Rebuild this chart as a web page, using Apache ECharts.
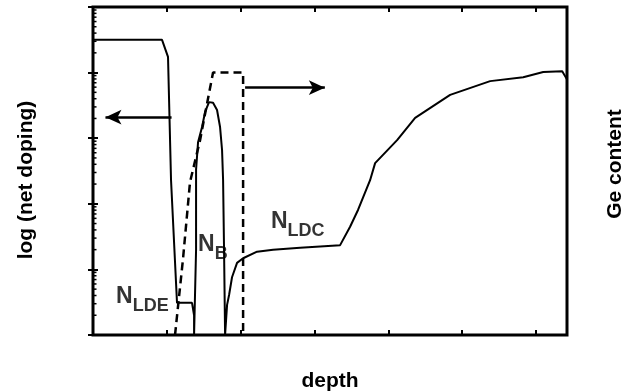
<!DOCTYPE html>
<html>
<head>
<meta charset="utf-8">
<script src="https://cdn.jsdelivr.net/npm/echarts@6/dist/echarts.min.js"></script>
<style>
html, body { margin: 0; padding: 0; background: #fff; }
#chart { width: 624px; height: 392px; }
</style>
</head>
<body>
<div id="chart"></div>
<script>
// net doping profile: depth (arb. units) and log10 of net doping
var dopDepth = [0, 93.5, 101.6, 105.7, 113.8, 134.1, 136.9, 136.9, 139.6, 139.6, 139.6, 142.3,
	147.7, 151.8, 157.2, 162.6, 168.0, 172.1, 174.8, 176.2, 177.5, 178.9, 181.6, 181.6, 184.3,
	188.3, 195.1, 203.3, 222.2, 243.9, 280.5, 334.7, 348.2, 359.1, 375.3, 382.1, 411.9, 436.3,
	483.7, 537.9, 582.7, 609.8, 635.5, 642.3];
var dopLog = [4.50, 4.50, 4.24, 2.36, 0.49, 0.49, 0.30, 0, 0, 1.30, 2.52, 2.94,
	3.17, 3.40, 3.55, 3.54, 3.43, 3.17, 2.82, 2.36, 1.30, 0, 0, 0.46, 0.61,
	0.88, 1.10, 1.17, 1.27, 1.30, 1.33, 1.37, 1.65, 1.91, 2.36, 2.62, 2.97, 3.31,
	3.66, 3.87, 3.93, 4.01, 4.02, 3.89];

// Ge content profile (dashed)
var geDepth = [111.1, 122.0, 131.4, 145.0, 154.5, 162.6, 203.3, 203.3];
var geContent = [0, 1.17, 2.33, 2.97, 3.53, 4.0, 4.0, 0];

// region labels
var labelNames = ['LDE', 'B', 'LDC'];
var labelDepth = [31.2, 142.3, 241.0];
var labelLog = [0.53, 1.33, 1.68];

// axis arrows
var leftArrow = { from: 106.4, to: 16.9, log: 3.32 };
var rightArrow = { from: 206.0, to: 314.0, ge: 3.77 };

// minor ticks of the log axis: 2..9 in every decade
var decades = [1, 10, 100, 1000, 10000];
var minorSteps = [2, 3, 4, 5, 6, 7, 8, 9];

var font = "'Liberation Sans', Arial, sans-serif";

var myChart = echarts.init(document.getElementById('chart'));

var dopData = dopDepth.map(function (d, i) { return [d, Math.pow(10, dopLog[i])]; });
var geData = geDepth.map(function (d, i) { return [d, geContent[i]]; });
var labelData = labelDepth.map(function (d, i) { return [d, Math.pow(10, labelLog[i]), labelNames[i]]; });
var minorData = [];
decades.forEach(function (dec) {
	minorSteps.forEach(function (m) { minorData.push([0, dec * m]); });
});

var tickStyle = { show: true, inside: true, length: 5, lineStyle: { color: '#000', width: 2 } };
var nameStyle = { fontFamily: font, fontWeight: 'bold', fontSize: 21, color: '#000' };

var option = {
	animation: false,
	backgroundColor: '#fff',
	grid: {
		left: 93,
		right: 57,
		top: 7,
		bottom: 57,
		containLabel: false,
		outerBoundsMode: 'none',
		show: true,
		borderColor: '#000',
		borderWidth: 3
	},
	xAxis: [
		{
			type: 'value',
			name: 'depth',
			nameLocation: 'middle',
			nameGap: 36,
			nameTextStyle: nameStyle,
			min: 0,
			max: 642,
			interval: 100,
			axisLine: { show: false },
			axisTick: tickStyle,
			axisLabel: { show: false },
			splitLine: { show: false }
		},
		{
			type: 'value',
			position: 'top',
			min: 0,
			max: 642,
			interval: 100,
			axisLine: { show: false },
			axisTick: tickStyle,
			axisLabel: { show: false },
			splitLine: { show: false }
		}
	],
	yAxis: [
		{
			type: 'log',
			logBase: 10,
			min: 1,
			max: 100000,
			name: 'log (net doping)',
			nameLocation: 'middle',
			nameGap: 56,
			nameTextStyle: Object.assign({ padding: [0, 18, 0, 0] }, nameStyle),
			axisLine: { show: false },
			axisTick: tickStyle,
			axisLabel: { show: false },
			splitLine: { show: false }
		},
		{
			type: 'value',
			min: 0,
			max: 5,
			interval: 1,
			position: 'right',
			name: 'Ge content',
			nameLocation: 'middle',
			nameGap: 38,
			nameTextStyle: Object.assign({ padding: [0, 0, 0, 14] }, nameStyle),
			axisLine: { show: false },
			axisTick: tickStyle,
			axisLabel: { show: false },
			splitLine: { show: false }
		}
	],
	series: [
		{
			name: 'net doping',
			type: 'line',
			yAxisIndex: 0,
			data: dopData,
			symbol: 'none',
			lineStyle: { color: '#000', width: 2 },
			markLine: {
				silent: true,
				symbol: ['none', 'arrow'],
				symbolSize: [11, 16],
				label: { show: false },
				lineStyle: { color: '#000', width: 2.5, type: 'solid' },
				data: [[
					{ coord: [leftArrow.from, Math.pow(10, leftArrow.log)] },
					{ coord: [leftArrow.to, Math.pow(10, leftArrow.log)] }
				]]
			}
		},
		{
			name: 'Ge content',
			type: 'line',
			yAxisIndex: 1,
			data: geData,
			symbol: 'none',
			lineStyle: { color: '#000', width: 2.5, type: [8, 5] },
			markLine: {
				silent: true,
				symbol: ['none', 'arrow'],
				symbolSize: [11, 16],
				label: { show: false },
				lineStyle: { color: '#000', width: 2.5, type: 'solid' },
				data: [[
					{ coord: [rightArrow.from, rightArrow.ge] },
					{ coord: [rightArrow.to, rightArrow.ge] }
				]]
			}
		},
		{
			name: 'minor ticks',
			type: 'custom',
			yAxisIndex: 0,
			data: minorData,
			silent: true,
			clip: false,
			renderItem: function (params, api) {
				var p = api.coord([api.value(0), api.value(1)]);
				return {
					type: 'line',
					shape: { x1: p[0], y1: p[1], x2: p[0] + 3.5, y2: p[1] },
					style: { stroke: '#000', lineWidth: 1.5 }
				};
			}
		},
		{
			name: 'labels',
			type: 'scatter',
			yAxisIndex: 0,
			data: labelData,
			symbolSize: 0,
			silent: true,
			label: {
				show: true,
				position: 'right',
				distance: 0,
				color: '#000',
				formatter: function (p) { return '{n|N}{s|' + p.value[2] + '}'; },
				rich: {
					n: { fontFamily: font, fontWeight: 'bold', fontSize: 23, color: '#000', verticalAlign: 'bottom', padding: [0, 0, 7, 0] },
					s: { fontFamily: font, fontWeight: 'bold', fontSize: 18, color: '#000', verticalAlign: 'bottom' }
				}
			}
		}
	]
};
myChart.setOption(option, true);
</script>
</body>
</html>
